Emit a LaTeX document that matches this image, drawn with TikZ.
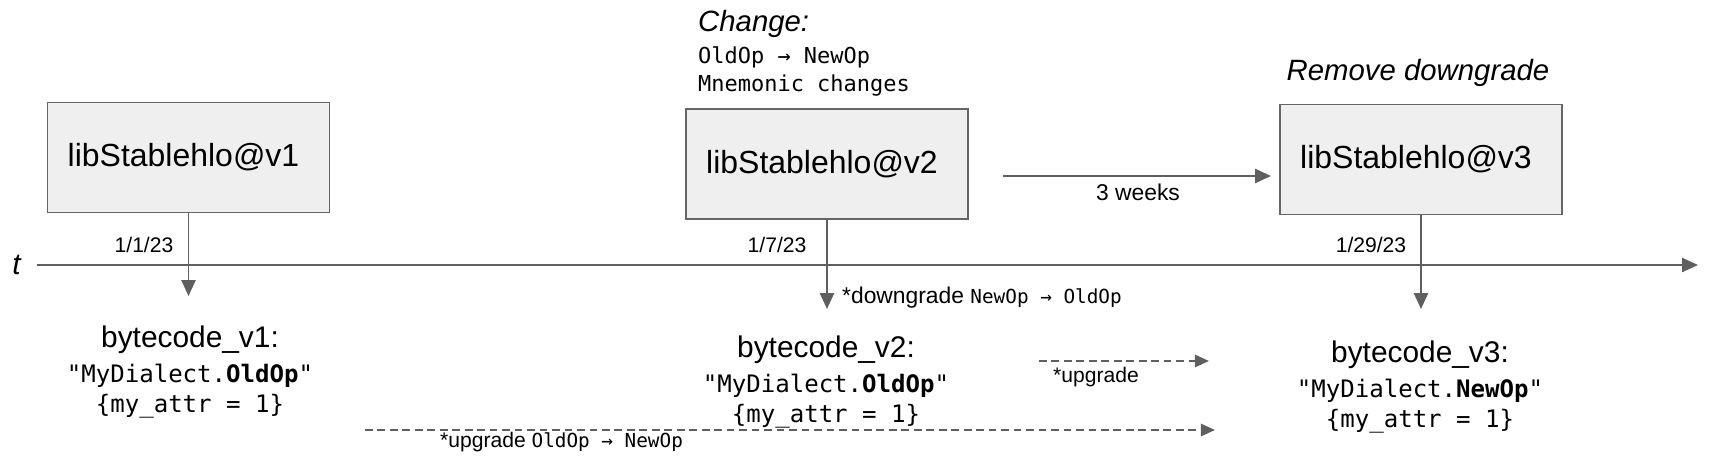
\documentclass[tikz,border=0pt]{standalone}
\usepackage{fontspec}
\setmainfont{Liberation Sans}
\setmonofont{DejaVu Sans Mono}
\usetikzlibrary{arrows.meta,positioning}

\definecolor{linegray}{HTML}{5F5F5F}
\definecolor{boxfill}{HTML}{EFEFEF}
\definecolor{boxline}{HTML}{666666}

\tikzset{
  libbox/.style={draw=boxline, fill=boxfill, line width=1.1pt, minimum width=5.64cm, minimum height=2.2cm, font=\fontsize{18.2}{20}\selectfont, execute at end node={\hspace{0.2cm}}},
  tarrow/.style={draw=linegray, line width=1.1pt, -{Triangle[length=9pt,width=8pt]}},
  darrow/.style={draw=linegray, line width=1.1pt, dash pattern=on 4.4pt off 2.7pt, -{Triangle[length=8pt,width=7pt]}},
  datelbl/.style={font=\fontsize{12}{14}\selectfont},
  bytecode/.style={align=center, font=\fontsize{17}{19.5}\selectfont},
}
\newcommand{\bcmono}{\ttfamily\fontsize{13.7}{17.5}\selectfont}
\newcommand{\lblmono}{\ttfamily\fontsize{11}{13}\selectfont}

\begin{document}
\begin{tikzpicture}[x=0.02cm, y=-0.02cm]
\useasboundingbox (0,0) rectangle (1732,476);
% time axis
\node[font=\fontsize{17}{19}\selectfont\itshape] (t) at (16.6,265) {t};
\coordinate (tstart) at (36.5,265);
\coordinate (tend) at (1698,265);
\draw[tarrow, line width=1pt] (tstart) -- (tend);

% the three releases
\node[libbox] (v1) at (188.5,157.5) {libStablehlo@v1};
\node[libbox] (v2) at (827,164) {libStablehlo@v2};
\node[libbox] (v3) at (1421,159.5) {libStablehlo@v3};

\node[datelbl] (d1) at (144,245) {1/1/23};
\node[datelbl] (d2) at (777,245) {1/7/23};
\node[datelbl] (d3) at (1371,245) {1/29/23};

\coordinate (tip1) at (188.5,296);
\coordinate (tip2) at (827,309);
\coordinate (tip3) at (1421,309);
\draw[tarrow] (v1.south) -- (tip1);
\draw[tarrow] (v2.south) -- (tip2);
\draw[tarrow] (v3.south) -- (tip3);

% notes above the boxes
\node[anchor=west, font=\fontsize{16.7}{19}\selectfont\itshape] (chg) at (692,24) {Change:};
\node[anchor=west, font=\ttfamily\fontsize{12.5}{15}\selectfont] (chg1) at (692,57.5) {OldOp → NewOp};
\node[anchor=west, font=\ttfamily\fontsize{12.5}{15}\selectfont] (chg2) at (692,86) {Mnemonic changes};
\node[font=\fontsize{16.7}{19}\selectfont\itshape] (rmv) at (1418,73) {Remove downgrade};

% three weeks between v2 and v3
\coordinate (wstart) at (1003,176);
\coordinate (wend) at (1271,176);
\draw[tarrow] (wstart) -- (wend);
\node[font=\fontsize{13}{15}\selectfont] (wk) at (1138,192) {3 weeks};

% bytecode produced by each release
\node[bytecode] (bc1) at (190,372) {bytecode\_v1:\\{\bcmono "MyDialect.\textbf{OldOp}"}\\[-2.3pt]{\bcmono \{my\_attr = 1\}}};
\node[bytecode] (bc2) at (826,382) {bytecode\_v2:\\{\bcmono "MyDialect.\textbf{OldOp}"}\\[-2.3pt]{\bcmono \{my\_attr = 1\}}};
\node[bytecode] (bc3) at (1420,387) {bytecode\_v3:\\{\bcmono "MyDialect.\textbf{NewOp}"}\\[-2.3pt]{\bcmono \{my\_attr = 1\}}};

\node[anchor=west, font=\fontsize{13}{15}\selectfont] (dwn) at (836,298) {*downgrade {\lblmono NewOp → OldOp}};

% upgrade paths
\coordinate (up1s) at (1039,361);
\coordinate (up1e) at (1209,361);
\draw[darrow] (up1s) -- (up1e);
\node[font=\fontsize{12}{14}\selectfont] (up1) at (1096,377) {*upgrade};

\coordinate (up2s) at (365,430);
\coordinate (up2e) at (1215,430);
\draw[darrow] (up2s) -- (up2e);
\node[anchor=west, font=\fontsize{12}{14}\selectfont] (up2) at (434,442) {*upgrade {\lblmono OldOp → NewOp}};
\end{tikzpicture}
\end{document}
